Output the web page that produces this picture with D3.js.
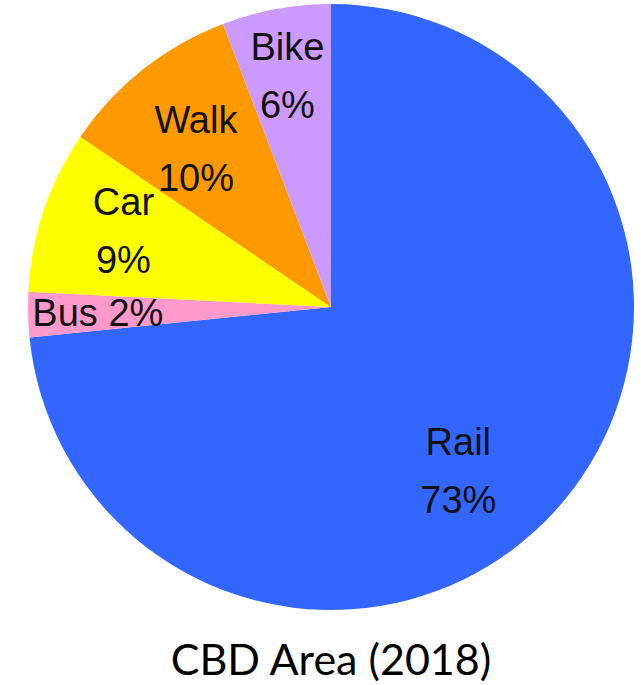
<!DOCTYPE html>
<meta charset="utf-8">
<script src="https://d3js.org/d3.v7.min.js"></script>
<style>
  body { margin: 0; background: #fff; }
</style>
<svg id="chart" width="641" height="685"></svg>
<script>

    // Mode share, clockwise from 12 o'clock
    var modes   = ["Rail", "Bus", "Car", "Walk", "Bike"];
    var shares  = [73.4, 2.4, 8.7, 9.7, 5.8];
    var colours = ["#3366ff", "#ff99cc", "#ffff00", "#ff9900", "#cc99ff"];
    var title   = "CBD Area (2018)";

    var svg = d3.select("#chart"),
        width = +svg.attr("width"),
        height = +svg.attr("height");

    var cx = 331, cy = 307, radius = 303;

    var data = modes.map(function(m, i){ return {mode: m, value: shares[i], colour: colours[i]} });

    var pie = d3.pie()
        .sort(null)
        .value(function(d){ return d.value });

    var arc = d3.arc().innerRadius(0).outerRadius(radius);

    var g = svg.append("g").attr("transform", "translate(" + cx + "," + cy + ")");

    // slices
    g.selectAll("path")
      .data(pie(data))
      .enter()
      .append("path")
        .attr("d", arc)
        .attr("fill", function(d){ return d.data.colour })
        .attr("stroke", "none");

    // labels sit roughly at 0.74 of the radius, small hand nudges like the original
    var labelArc = d3.arc().innerRadius(radius * 0.74).outerRadius(radius * 0.74);
    var nudge = {Rail: [-39, 14], Bus: [-9, 0], Car: [5, -5], Walk: [4, 18], Bike: [-3, -10]};

    var labels = g.selectAll("text.lab")
      .data(pie(data))
      .enter()
      .append("text")
        .attr("class", "lab")
        .attr("text-anchor", "middle")
        .style("font-family", "'Liberation Sans', Arial, sans-serif")
        .style("font-size", "38px")
        .style("fill", "#111")
        .attr("transform", function(d){
            var c = labelArc.centroid(d), n = nudge[d.data.mode] || [0, 0];
            return "translate(" + (c[0] + n[0]) + "," + (c[1] + n[1]) + ")";
        });

    labels.each(function(d){
        var t = d3.select(this),
            pct = Math.round(d.data.value) + "%";
        if (d.data.value < 5) {
            t.append("tspan").attr("x", 0).attr("y", 13).text(d.data.mode + " " + pct);
        } else {
            t.append("tspan").attr("x", 0).attr("y", -16).text(d.data.mode);
            t.append("tspan").attr("x", 0).attr("y", 42).text(pct);
        }
    });

    // title under the pie
    svg.append("text")
        .attr("x", cx)
        .attr("y", 675)
        .attr("text-anchor", "middle")
        .style("font-family", "Lato, 'Open Sans', sans-serif")
        .style("font-size", "43px")
        .style("fill", "#000")
        .text(title);

</script>
